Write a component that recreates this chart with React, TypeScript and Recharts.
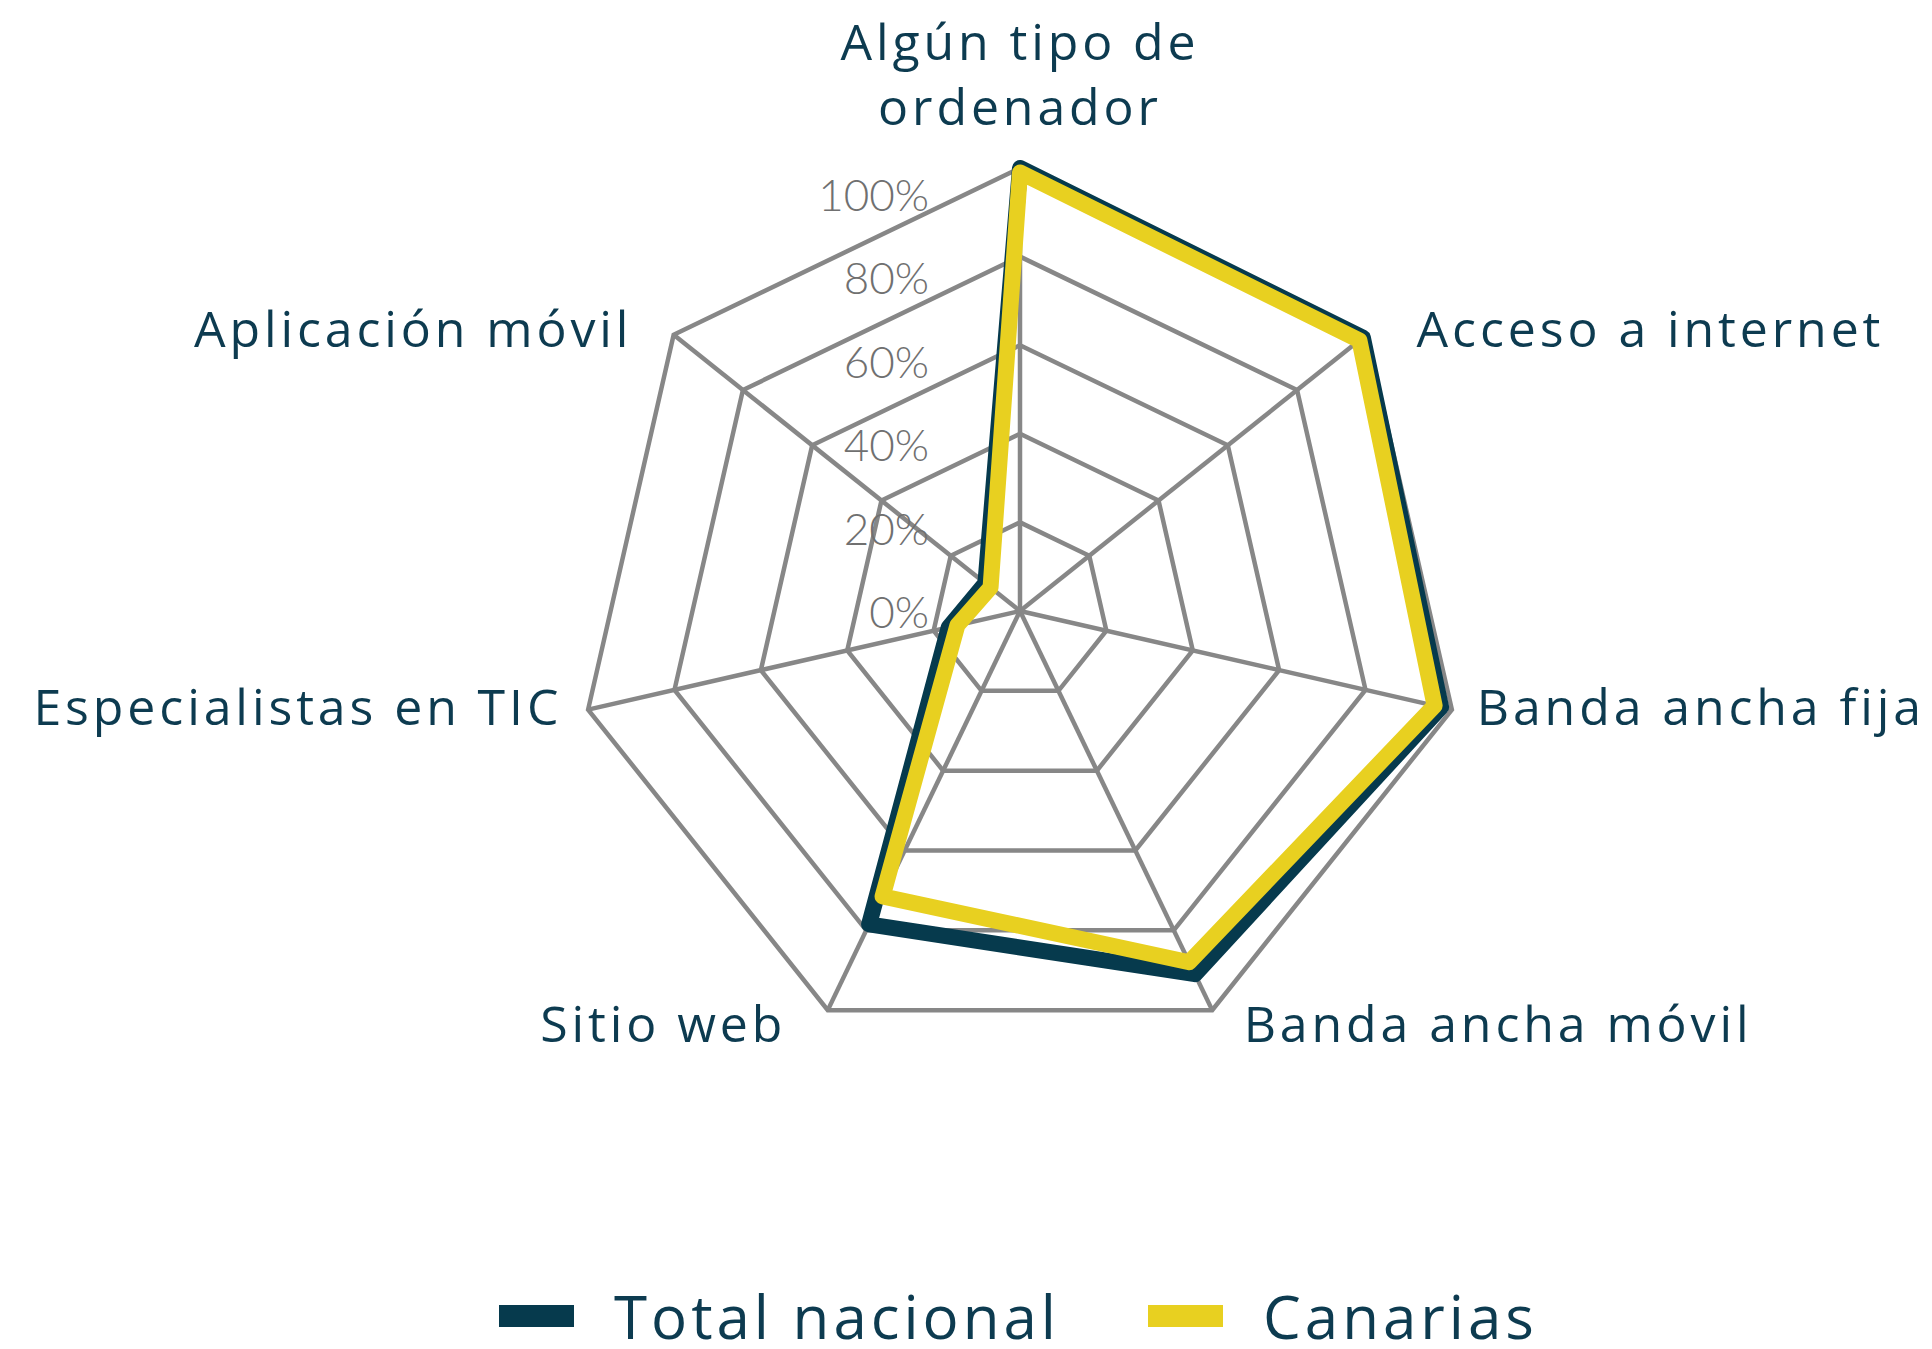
import { RadarChart, Radar, PolarGrid, PolarAngleAxis, PolarRadiusAxis } from "recharts";

const categories = [
  "Algún tipo de ordenador",
  "Acceso a internet",
  "Banda ancha fija",
  "Banda ancha móvil",
  "Sitio web",
  "Especialistas en TIC",
  "Aplicación móvil",
];
const totalNacional = [100, 99, 97.5, 91, 78.5, 16.5, 10];
const canarias = [99, 98, 96, 88, 71.5, 14.5, 8.5];
const radiusTicks = [0, 20, 40, 60, 80, 100];

const series = [
  { key: "total", name: "Total nacional", color: "#063a4d" },
  { key: "canarias", name: "Canarias", color: "#e8d020" },
];

const data = categories.map((c, i) => ({ cat: c, total: totalNacional[i], canarias: canarias[i] }));

const CX = 1020;
const CY = 611;
const R = 443;
const LABEL = "#0d3b50";
const FONT = "'Open Sans', sans-serif";

// label placement relative to the point just outside each spoke
const labelOffsets = [
  { dx: 0, dy: -35, anchor: "middle" },
  { dx: 44, dy: 17, anchor: "start" },
  { dx: 17, dy: 14, anchor: "start" },
  { dx: 28, dy: 25, anchor: "start" },
  { dx: -38, dy: 25, anchor: "end" },
  { dx: -18, dy: 14, anchor: "end" },
  { dx: -35, dy: 17, anchor: "end" },
];

function AngleTick(props: any) {
  const i = props.index ?? 0;
  const a = ((90 - (i * 360) / categories.length) * Math.PI) / 180;
  const bx = CX + (R + 8) * Math.cos(a);
  const by = CY - (R + 8) * Math.sin(a);
  const o = labelOffsets[i];
  const text: string = props.payload?.value ?? categories[i];
  const common = { fill: LABEL, fontSize: 50, fontFamily: FONT, letterSpacing: 3.9 };
  if (i === 0) {
    return (
      <text x={bx} y={by + o.dy} textAnchor="middle" {...common}>
        <tspan x={bx} dy={-65}>Algún tipo de</tspan>
        <tspan x={bx} dy={65}>ordenador</tspan>
      </text>
    );
  }
  return (
    <text x={bx + o.dx} y={by + o.dy} textAnchor={o.anchor as any} {...common}>
      {text}
    </text>
  );
}

function RadiusTick(props: any) {
  const v = props.payload?.value ?? 0;
  const y = CY + 1 - v * 4.17 + 16;
  return (
    <text x={929} y={y} textAnchor="end" fill="#707070" fontSize={44} fontFamily="Lato, sans-serif" fontWeight={300}>
      {v}%
    </text>
  );
}

function ChartLegend() {
  return (
    <div
      style={{
        position: "absolute",
        top: 1284,
        left: 499,
        display: "flex",
        alignItems: "center",
        fontFamily: FONT,
        fontSize: 60,
        letterSpacing: 4,
        lineHeight: 1,
        color: LABEL,
      }}
    >
      {series.map((s, i) => (
        <div key={s.key} style={{ display: "flex", alignItems: "center", marginLeft: i ? 88 : 0 }}>
          <div style={{ width: 75, height: 22, background: s.color, marginRight: 40 }} />
          <span style={{ padding: "2px 0" }}>{s.name}</span>
        </div>
      ))}
    </div>
  );
}

export default function App() {
  return (
    <div style={{ position: "absolute", left: 0, top: 0, width: 1932, height: 1349, background: "#fff" }}>
      <RadarChart width={1932} height={1349} data={data} cx={CX} cy={CY} outerRadius={R} margin={{ top: 0, right: 0, bottom: 0, left: 0 }}>
        <PolarGrid gridType="polygon" stroke="#878787" strokeWidth={4.5} strokeOpacity={1} />
        <PolarAngleAxis dataKey="cat" tick={<AngleTick />} tickLine={false} axisLine={false} />
        <PolarRadiusAxis angle={90} domain={[0, 100]} ticks={radiusTicks as any} tickCount={6} axisLine={false} tick={<RadiusTick />} />
        {series.map((s) => (
          <Radar
            key={s.key}
            name={s.name}
            dataKey={s.key}
            stroke={s.color}
            strokeWidth={16}
            strokeLinejoin="round"
            fill="none"
            fillOpacity={0}
            dot={false}
            isAnimationActive={false}
          />
        ))}
      </RadarChart>
      <ChartLegend />
    </div>
  );
}
